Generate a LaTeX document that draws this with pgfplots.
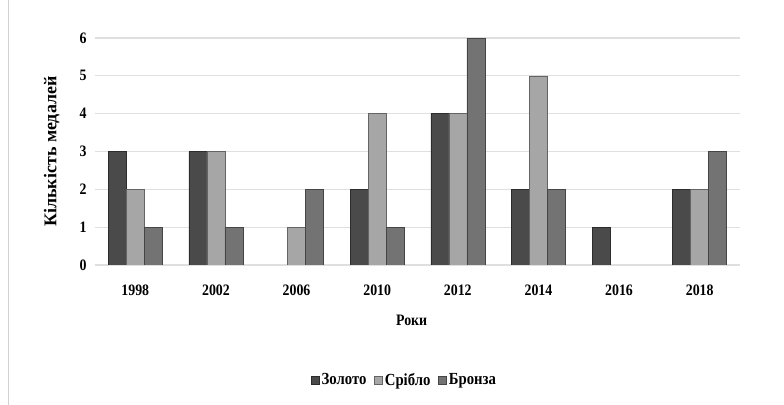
\documentclass[border=0pt]{standalone}
\usepackage{fontspec}
\setmainfont{Liberation Serif}[FakeStretch=0.87]
\newfontfamily\labelfont{Liberation Serif}
\usepackage{pgfplots}
\pgfplotsset{compat=1.18}
\definecolor{cgold}{HTML}{4A4A4A}
\definecolor{csilver}{HTML}{A6A6A6}
\definecolor{cbronze}{HTML}{737373}
\begin{document}
\begin{tikzpicture}
\path[use as bounding box] (0bp,0bp) rectangle (784bp,405bp);
\draw[gray!35, line width=1bp] (8bp,0bp) -- (8bp,405bp);
\begin{axis}[
  at={(95bp,140bp)}, anchor=south west,
  scale only axis, width=645bp, height=227bp,
  xmin=-0.5, xmax=7.5, ymin=0, ymax=6,
  ybar=0pt, bar width=18bp,
  xtick={0,...,7},
  xticklabels={1998,2002,2006,2010,2012,2014,2016,2018},
  ytick={0,...,6},
  axis line style={draw=none},
  major tick length=0pt,
  ymajorgrids, grid style={gray!25, line width=1.2bp},
  /pgf/number format/assume math mode=true,
  ticklabel style={font=\fontsize{16}{18}\selectfont\bfseries},
  yticklabel style={xshift=-5bp},
  xticklabel style={yshift=-16bp},
  xlabel={\fontsize{16}{18}\selectfont\bfseries Роки},
  xlabel style={at={(axis description cs:0.491,-0.242)}, anchor=center},
  ylabel={\labelfont\fontsize{18}{20}\selectfont\bfseries Кількість медалей},
  ylabel style={at={(axis description cs:-0.067,0.5)}, anchor=center},
  legend columns=-1,
  legend style={at={(0.48,-0.507)}, anchor=center, draw=none,
    font=\fontsize{17}{19}\selectfont\bfseries,
    /tikz/every even column/.append style={column sep=6bp}},
  legend image code/.code={\fill[#1] (0bp,-4bp) rectangle (8bp,4bp);},
]
\fill[gray!12] (axis cs:-0.5,0) -- (axis cs:7.5,0) -- (axis cs:7.48,-0.04) -- (axis cs:-0.52,-0.04) -- cycle;
\addplot[draw=cgold!60!black, fill=cgold] coordinates {(0,3) (1,3) (2,0) (3,2) (4,4) (5,2) (6,1) (7,2)};
\addplot[draw=csilver!60!black, fill=csilver] coordinates {(0,2) (1,3) (2,1) (3,4) (4,4) (5,5) (6,0) (7,2)};
\addplot[draw=cbronze!60!black, fill=cbronze] coordinates {(0,1) (1,1) (2,2) (3,1) (4,6) (5,2) (6,0) (7,3)};
\legend{Золото,Срібло,Бронза}
\end{axis}
\end{tikzpicture}
\end{document}
